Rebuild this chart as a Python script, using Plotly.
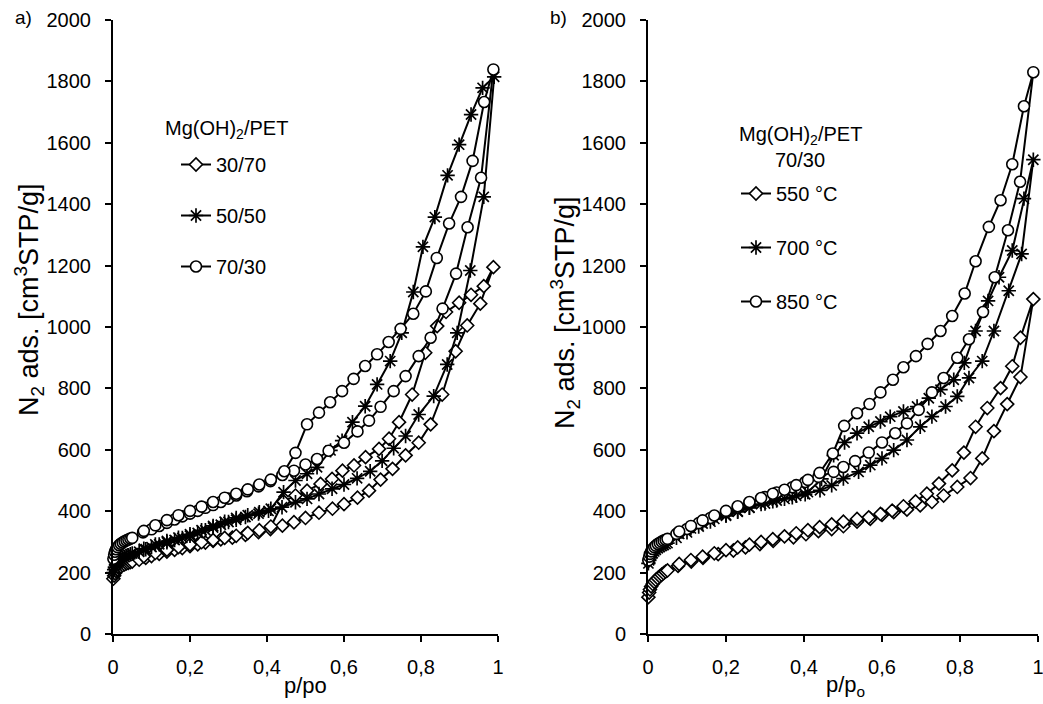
import plotly.graph_objects as go

# ---------------- data ----------------
# Left panel a): Mg(OH)2/PET ratios
a3070_ads_x = [0.001,0.003,0.005,0.008,0.012,0.016,0.02,0.025,0.03,0.035,0.04,0.045,0.05,0.068,0.085,0.1,0.12,0.14,0.16,0.18,0.2,0.22,0.24,0.26,0.28,0.31,0.344,0.378,0.409,0.44,0.47,0.5,0.535,0.57,0.6,0.635,0.665,0.695,0.726,0.76,0.794,0.825,0.855,0.89,0.92,0.954,0.988]
a3070_ads_y = [180,190,198,205,211,216,220,224,227,230,232,234,236,242,248,254,261,268,274,280,286,292,298,303,308,314,323,332,342,353,364,378,395,408,423,444,467,503,538,582,623,683,780,921,1005,1076,1195]
a3070_des_x = [0.963,0.93,0.899,0.865,0.842,0.811,0.777,0.743,0.717,0.691,0.656,0.626,0.596,0.569,0.539,0.504,0.474,0.443,0.41,0.38,0.35,0.32,0.29,0.26,0.23,0.2,0.17,0.14,0.11,0.08]
a3070_des_y = [1133,1105,1079,1049,1003,916,780,690,636,603,576,549,532,505,489,467,451,432,350,338,329,320,313,306,299,291,283,274,264,253]

a5050_ads_x = [0.001,0.003,0.005,0.008,0.012,0.016,0.02,0.025,0.03,0.035,0.04,0.045,0.05,0.068,0.085,0.1,0.12,0.14,0.16,0.18,0.2,0.22,0.24,0.26,0.28,0.3,0.32,0.344,0.378,0.404,0.439,0.474,0.504,0.535,0.569,0.6,0.634,0.668,0.699,0.729,0.76,0.794,0.833,0.868,0.894,0.928,0.963,0.99]
a5050_ads_y = [200,210,218,226,233,239,243,247,251,254,257,260,262,268,276,283,292,299,306,313,320,329,338,347,356,365,372,381,392,401,413,429,440,456,473,487,507,530,564,605,645,715,775,878,981,1184,1424,1815]
a5050_des_x = [0.96,0.93,0.899,0.869,0.836,0.805,0.78,0.75,0.72,0.686,0.655,0.622,0.595,0.565,0.53,0.504,0.474,0.443,0.41,0.38,0.35,0.32,0.29,0.26,0.23,0.2,0.17,0.14,0.11,0.08]
a5050_des_y = [1779,1692,1594,1494,1358,1261,1114,981,889,813,742,690,630,598,543,522,500,462,408,397,387,378,366,352,338,325,314,303,292,278]

a7030_ads_x = [0.001,0.003,0.005,0.008,0.012,0.016,0.02,0.025,0.03,0.035,0.04,0.045,0.05,0.078,0.1,0.12,0.14,0.16,0.18,0.2,0.22,0.24,0.26,0.28,0.3,0.32,0.348,0.378,0.409,0.44,0.47,0.5,0.53,0.56,0.6,0.635,0.665,0.695,0.729,0.76,0.794,0.825,0.856,0.891,0.921,0.956,0.988]
a7030_ads_y = [245,258,268,276,283,289,294,298,302,305,308,311,313,331,341,352,362,373,383,392,401,411,420,430,441,451,465,481,498,518,532,552,570,597,623,660,695,740,791,840,905,965,1060,1174,1325,1486,1839]
a7030_des_x = [0.964,0.934,0.904,0.873,0.841,0.8125,0.78,0.747,0.716,0.686,0.655,0.625,0.595,0.564,0.535,0.504,0.474,0.445,0.41,0.38,0.35,0.32,0.29,0.26,0.23,0.2,0.17,0.14,0.11,0.08]
a7030_des_y = [1733,1541,1424,1337,1225,1116,1043,994,951,911,873,831,791,755,721,683,590,530,503,487,471,457,444,430,415,401,387,371,354,336]

# Right panel b): Mg(OH)2/PET 70/30 at different temperatures
b550_ads_x = [0.001,0.003,0.005,0.008,0.012,0.016,0.02,0.025,0.03,0.035,0.04,0.045,0.05,0.077,0.111,0.141,0.18,0.219,0.25,0.287,0.321,0.373,0.405,0.437,0.471,0.501,0.536,0.57,0.6,0.63,0.664,0.698,0.728,0.758,0.793,0.827,0.857,0.887,0.921,0.955,0.988]
b550_ads_y = [120,135,145,155,163,170,176,182,188,193,198,203,207,222,236,248,260,272,282,293,303,315,325,335,342,351,366,375,388,397,405,419,430,451,479,508,572,661,749,837,1091]
b550_des_x = [0.955,0.934,0.904,0.87,0.84,0.81,0.78,0.746,0.715,0.686,0.655,0.626,0.596,0.566,0.536,0.501,0.471,0.44,0.41,0.38,0.35,0.32,0.29,0.26,0.23,0.2,0.17,0.14,0.11,0.08]
b550_des_y = [965,872,801,736,675,591,533,490,457,432,416,402,391,380,375,366,357,348,338,328,318,309,300,291,282,273,263,252,241,228]

b700_ads_x = [0.001,0.003,0.005,0.008,0.012,0.016,0.02,0.025,0.03,0.035,0.04,0.045,0.05,0.073,0.1,0.13,0.16,0.2,0.23,0.26,0.3,0.33,0.37,0.403,0.441,0.471,0.501,0.54,0.57,0.6,0.63,0.664,0.698,0.728,0.763,0.793,0.823,0.857,0.887,0.925,0.958,0.988]
b700_ads_y = [230,240,248,256,263,269,274,279,283,287,290,293,296,313,331,350,366,385,398,411,425,435,445,455,468,484,506,528,550,572,599,632,675,708,741,774,834,889,987,1118,1238,1545]
b700_des_x = [0.964,0.934,0.9,0.872,0.84,0.811,0.784,0.75,0.72,0.69,0.655,0.621,0.596,0.566,0.536,0.504,0.476,0.445,0.41,0.38,0.35,0.32,0.29,0.26,0.23,0.2,0.17,0.14,0.11,0.08]
b700_des_y = [1418,1249,1162,1085,987,883,828,796,768,741,725,708,692,675,654,624,582,505,462,450,440,432,423,412,400,388,375,360,344,326]

b850_ads_x = [0.001,0.003,0.005,0.008,0.012,0.016,0.02,0.025,0.03,0.035,0.04,0.045,0.05,0.073,0.1,0.13,0.16,0.2,0.23,0.26,0.3,0.33,0.37,0.403,0.437,0.476,0.501,0.531,0.566,0.6,0.634,0.664,0.694,0.728,0.758,0.793,0.823,0.859,0.889,0.923,0.954,0.988]
b850_ads_y = [240,252,261,269,277,283,288,293,297,301,304,307,310,326,342,361,378,397,412,426,446,461,478,495,512,528,544,563,591,624,654,686,730,787,834,900,960,1049,1162,1315,1473,1830]
b850_des_x = [0.964,0.934,0.904,0.874,0.84,0.812,0.78,0.75,0.717,0.687,0.655,0.628,0.596,0.568,0.536,0.503,0.474,0.44,0.41,0.38,0.35,0.32,0.29,0.26,0.23,0.2,0.17,0.14,0.11,0.08]
b850_des_y = [1719,1530,1413,1326,1214,1109,1036,987,945,905,869,828,787,749,719,678,588,525,502,485,470,457,443,430,416,401,386,370,352,334]

left_names = ["30/70", "50/50", "70/30"]
right_names = ["550 °C", "700 °C", "850 °C"]
x_tick_vals = [0, 0.2, 0.4, 0.6, 0.8, 1]
x_tick_text = ["0", "0,2", "0,4", "0,6", "0,8", "1"]
y_tick_vals = [0, 200, 400, 600, 800, 1000, 1200, 1400, 1600, 1800, 2000]

# ---------------- styling ----------------
FONT = "Arial, Liberation Sans, sans-serif"
marker_styles = [
    dict(symbol="diamond", size=10, color="white", line=dict(color="black", width=1.6)),
    dict(symbol="asterisk-open", size=12, color="black", line=dict(color="black", width=1.7)),
    dict(symbol="circle", size=11, color="white", line=dict(color="black", width=1.6)),
]

fig = go.Figure()

left_data = [(a3070_ads_x, a3070_ads_y, a3070_des_x, a3070_des_y),
             (a5050_ads_x, a5050_ads_y, a5050_des_x, a5050_des_y),
             (a7030_ads_x, a7030_ads_y, a7030_des_x, a7030_des_y)]
right_data = [(b550_ads_x, b550_ads_y, b550_des_x, b550_des_y),
              (b700_ads_x, b700_ads_y, b700_des_x, b700_des_y),
              (b850_ads_x, b850_ads_y, b850_des_x, b850_des_y)]

for i, (ax_, ay_, dx_, dy_) in enumerate(left_data):
    fig.add_trace(go.Scatter(
        x=ax_ + dx_, y=ay_ + dy_, mode="lines+markers", name=left_names[i],
        xaxis="x", yaxis="y", legend="legend", legendgroup="L" + str(i),
        cliponaxis=False, line=dict(color="black", width=2),
        marker=marker_styles[i]))

for i, (ax_, ay_, dx_, dy_) in enumerate(right_data):
    fig.add_trace(go.Scatter(
        x=ax_ + dx_, y=ay_ + dy_, mode="lines+markers", name=right_names[i],
        xaxis="x2", yaxis="y2", legend="legend2", legendgroup="R" + str(i),
        cliponaxis=False, line=dict(color="black", width=2),
        marker=marker_styles[i]))

W, H = 1043, 704
ydom = [(H - 634) / H, (H - 20) / H]

axis_common = dict(showline=True, linecolor="black", linewidth=2, mirror=False,
                   ticks="outside", ticklen=6, tickwidth=2, tickcolor="black",
                   showgrid=False, zeroline=False, automargin=False,
                   ticklabeloverflow="allow",
                   tickfont=dict(family=FONT, size=20, color="black"))

fig.update_layout(
    template="none",
    width=W, height=H,
    margin=dict(l=0, r=0, t=0, b=0, autoexpand=False),
    paper_bgcolor="white", plot_bgcolor="white",
    font=dict(family=FONT, color="black", size=19),
    xaxis=dict(domain=[113 / W, 498 / W], range=[0, 1], anchor="y",
               tickvals=x_tick_vals, ticktext=x_tick_text, ticklabelstandoff=8, **axis_common),
    yaxis=dict(domain=ydom, range=[0, 2000], anchor="x",
               tickvals=y_tick_vals, ticklabelstandoff=10, **axis_common),
    xaxis2=dict(domain=[648 / W, 1038 / W], range=[0, 1], anchor="y2",
                tickvals=x_tick_vals, ticktext=x_tick_text, ticklabelstandoff=8, **axis_common),
    yaxis2=dict(domain=ydom, range=[0, 2000], anchor="x2",
                tickvals=y_tick_vals, ticklabelstandoff=10, **axis_common),
    legend=dict(x=176 / W, y=1 - 145 / H, xanchor="left", yanchor="top",
                bgcolor="rgba(0,0,0,0)", borderwidth=0, traceorder="grouped", tracegroupgap=22,
                font=dict(family=FONT, size=20)),
    legend2=dict(x=736 / W, y=1 - 174 / H, xanchor="left", yanchor="top",
                 bgcolor="rgba(0,0,0,0)", borderwidth=0, traceorder="grouped", tracegroupgap=25,
                 font=dict(family=FONT, size=20)),
    showlegend=True,
)

ann_font = dict(family=FONT, size=19, color="black")
title_font = dict(family=FONT, size=27, color="black")
xt_font = dict(family=FONT, size=22, color="black")
leg_font = dict(family=FONT, size=20, color="black")

def ann(text, px, py, xanchor="center", font=ann_font, angle=0):
    fig.add_annotation(text=text, x=px / W, y=1 - py / H, xref="paper", yref="paper",
                       xanchor=xanchor, yanchor="middle", showarrow=False, font=font,
                       textangle=angle)

ann("a)", 13, 18, xanchor="left")
ann("b)", 548, 18, xanchor="left")
ann("N<sub>2</sub> ads. [cm<sup>3</sup>STP/g]", 29, 300, font=title_font, angle=-90)
ann("N<sub>2</sub> ads. [cm<sup>3</sup>STP/g]", 565, 313, font=title_font, angle=-90)
ann("p/po", 305, 685, font=xt_font)
ann("p/p<sub>o</sub>", 845, 686, font=xt_font)
# legend titles
ann("Mg(OH)<sub>2</sub>/PET", 163, 129, xanchor="left", font=leg_font)
ann("Mg(OH)<sub>2</sub>/PET", 800, 136, font=leg_font)
ann("70/30", 800, 160, font=leg_font)

fig.write_html("out.html")
